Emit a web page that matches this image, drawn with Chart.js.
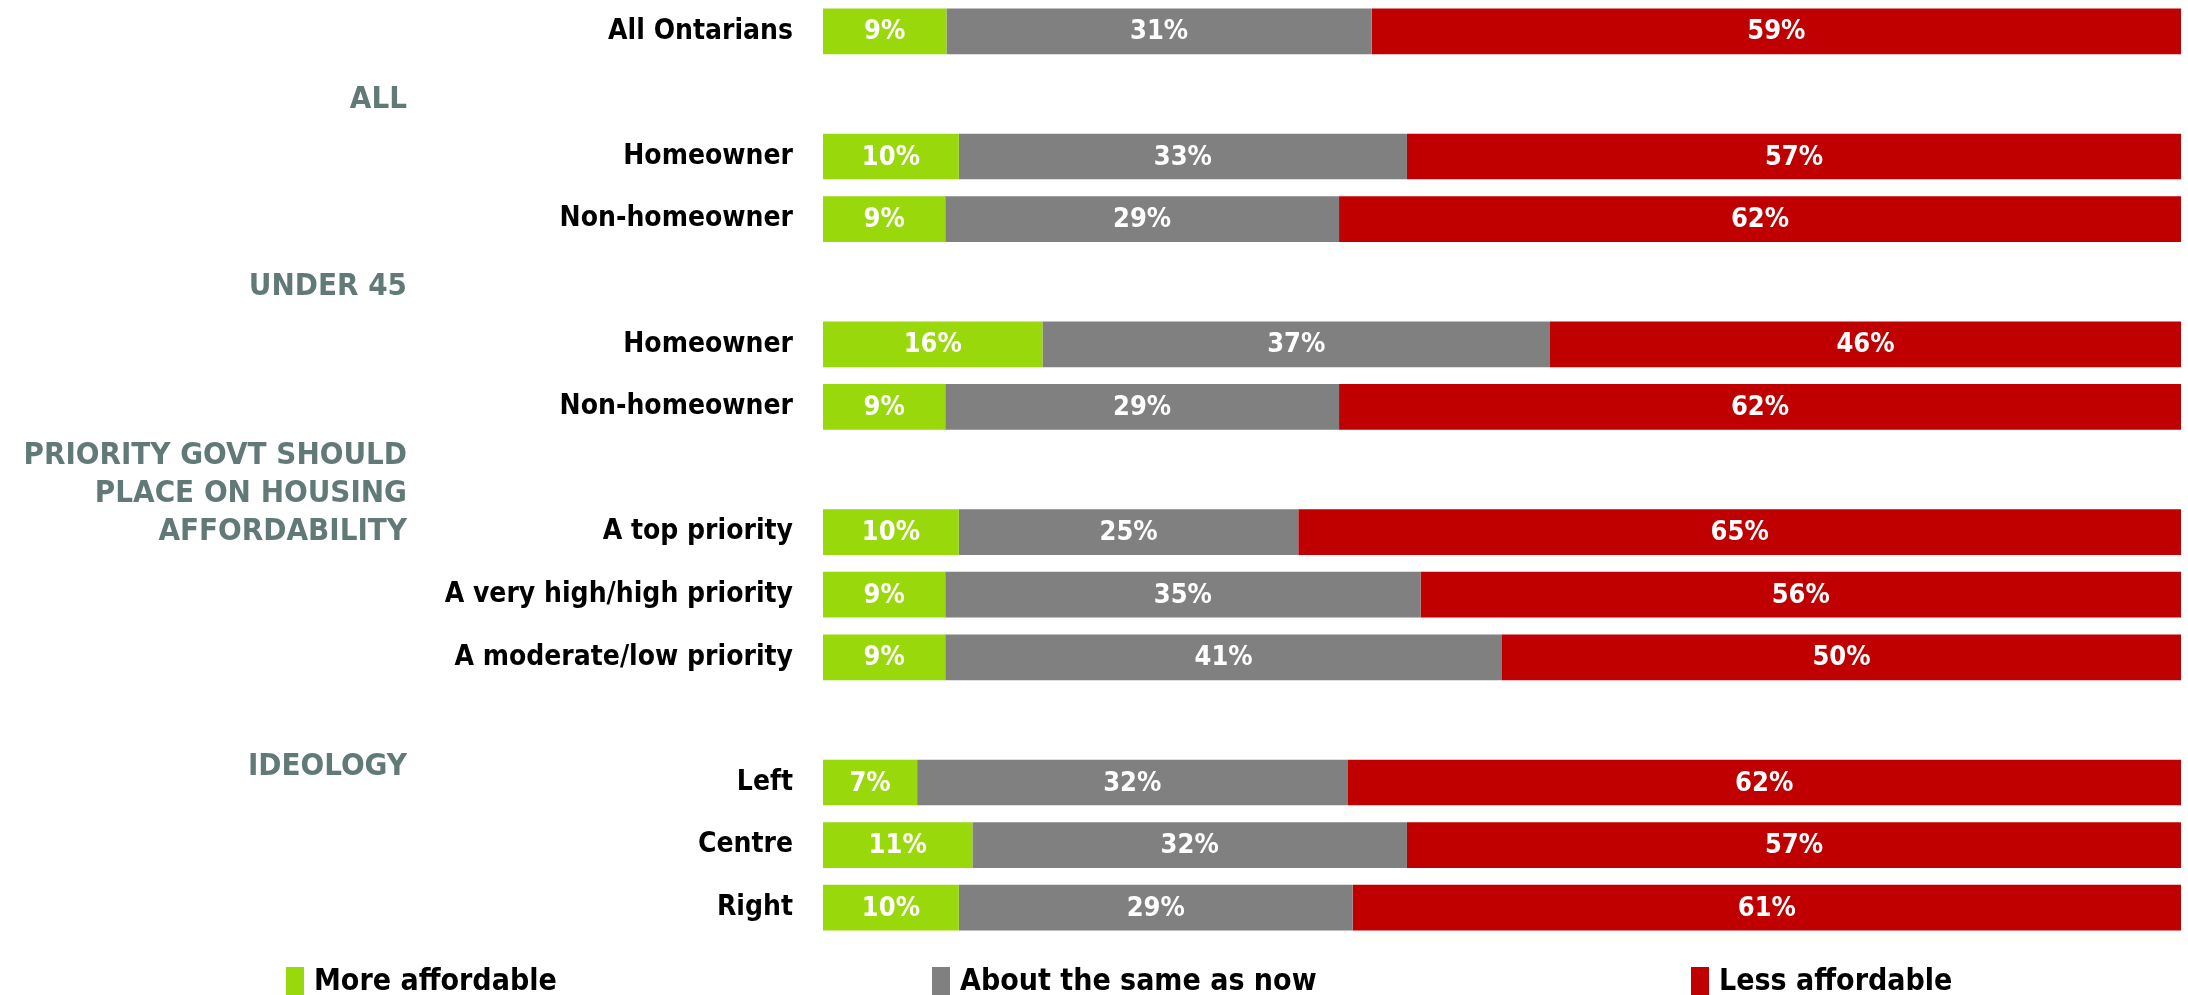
<!DOCTYPE html>
<html lang="en">
<head>
<meta charset="UTF-8">
<title>Housing affordability</title>
<script src="https://cdn.jsdelivr.net/npm/chart.js"></script>
<style>
  html, body { margin: 0; padding: 0; background: #fff; }
  #wrap { width: 2188px; height: 995px; position: relative; }
</style>
</head>
<body>
<div id="wrap"><canvas id="chart"></canvas></div>
<script>
// rows ('' = spacer row used by a group heading)
var categories = ['All Ontarians', '', 'Homeowner', 'Non-homeowner', '', 'Homeowner', 'Non-homeowner', '',
    'A top priority', 'A very high/high priority', 'A moderate/low priority', '', 'Left', 'Centre', 'Right'];
var moreAffordable = [9, null, 10, 9, null, 16, 9, null, 10, 9, 9, null, 7, 11, 10];
var aboutSame      = [31, null, 33, 29, null, 37, 29, null, 25, 35, 41, null, 32, 32, 29];
var lessAffordable = [59, null, 57, 62, null, 46, 62, null, 65, 56, 50, null, 62, 57, 61];
var seriesNames  = ['More affordable', 'About the same as now', 'Less affordable'];
var seriesColors = ['#99D80A', '#808080', '#C00000'];
var groupHeaders = [['ALL'], ['UNDER 45'], ['PRIORITY GOVT SHOULD', 'PLACE ON HOUSING', 'AFFORDABILITY'], ['IDEOLOGY']];
var headerRows   = [1, 4, 8, 12];

var FONT = '"DejaVu Sans Condensed", "DejaVu Sans", sans-serif';
var series = [moreAffordable, aboutSame, lessAffordable];

// 100% stacked: each row is shown as a share of its own total
function share(values, i) {
    var v = values[i];
    if (v == null) return null;
    var total = moreAffordable[i] + aboutSame[i] + lessAffordable[i];
    return v / total * 100;
}

var datasets = series.map(function (values, s) {
    return {
        label: seriesNames[s],
        data: values.map(function (v, i) { return share(values, i); }),
        backgroundColor: seriesColors[s],
        borderWidth: 0,
        barPercentage: 0.73,
        categoryPercentage: 1
    };
});

// percentage text inside each segment
var valueLabels = {
    id: 'valueLabels',
    afterDatasetsDraw: function (chart) {
        var ctx = chart.ctx;
        ctx.save();
        ctx.fillStyle = '#fff';
        ctx.font = 'bold 27px ' + FONT;
        ctx.textAlign = 'center';
        ctx.textBaseline = 'middle';
        series.forEach(function (values, s) {
            chart.getDatasetMeta(s).data.forEach(function (bar, i) {
                if (values[i] == null) return;
                ctx.fillText(values[i] + '%', (bar.x + bar.base) / 2, bar.y + 1);
            });
        });
        ctx.restore();
    }
};

// grey group headings on the left
var headings = {
    id: 'headings',
    afterDraw: function (chart) {
        var ctx = chart.ctx;
        var y = chart.scales.y;
        var offsets = [6, 5, 0, -16];
        ctx.save();
        ctx.fillStyle = '#627A77';
        ctx.font = 'bold 31px ' + FONT;
        ctx.textAlign = 'right';
        ctx.textBaseline = 'middle';
        groupHeaders.forEach(function (lines, g) {
            var base = y.getPixelForValue(headerRows[g]) + offsets[g];
            lines.forEach(function (line, k) {
                ctx.fillText(line, 407, base - (lines.length - 1 - k) * 38);
            });
        });
        ctx.restore();
    }
};

// legend along the bottom
var bottomLegend = {
    id: 'bottomLegend',
    afterDraw: function (chart) {
        var ctx = chart.ctx;
        var xs = [286, 932, 1691];
        ctx.save();
        ctx.font = 'bold 30px ' + FONT;
        ctx.textBaseline = 'middle';
        ctx.textAlign = 'left';
        seriesNames.forEach(function (name, s) {
            ctx.fillStyle = seriesColors[s];
            ctx.fillRect(xs[s], 967, 18, 28);
            ctx.fillStyle = '#000';
            ctx.fillText(name, xs[s] + 28, 982);
        });
        ctx.restore();
    }
};

var chart = new Chart(document.getElementById('chart'), {
    type: 'bar',
    data: { labels: categories, datasets: datasets },
    options: {
        indexAxis: 'y',
        responsive: true,
        maintainAspectRatio: false,
        animation: false,
        layout: { padding: { top: 0, right: 7, bottom: 56, left: 0 } },
        scales: {
            x: { stacked: true, min: 0, max: 100, display: false },
            y: {
                stacked: true,
                grid: { display: false, drawTicks: false },
                border: { display: false },
                ticks: {
                    autoSkip: false,
                    padding: 30,
                    color: '#000',
                    font: { family: FONT, size: 28, weight: 'bold' }
                },
                afterFit: function (scale) {
                    scale.width = 823;
                    scale.paddingTop = 0;
                    scale.paddingBottom = 0;
                }
            }
        },
        plugins: {
            legend: { display: false },
            tooltip: { enabled: false }
        }
    },
    plugins: [valueLabels, headings, bottomLegend]
});
</script>
</body>
</html>
